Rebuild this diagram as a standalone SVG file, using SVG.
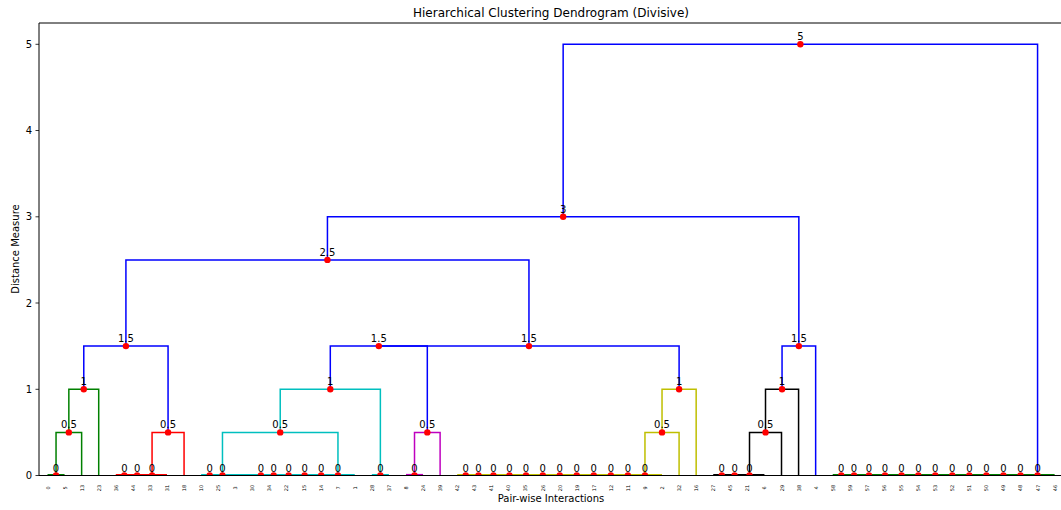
<svg xmlns="http://www.w3.org/2000/svg" width="1061" height="510" viewBox="0 0 1061 510">
<style>
text{font-family:"DejaVu Sans","Liberation Sans",sans-serif;fill:#000}
.lk{fill:none;stroke-width:1.5;stroke-linejoin:miter;stroke-linecap:butt}
.z{fill:none;stroke-width:1.2}
.g{stroke:#008000}.r{stroke:#ff0000}.c{stroke:#00bfbf}.m{stroke:#bf00bf}.y{stroke:#bfbf00}.k{stroke:#000000}.b{stroke:#0000ff}
.dot{fill:#ff0000}
.nl{font-size:10px;text-anchor:middle}
.xl{font-size:5px;text-anchor:middle;dominant-baseline:central}
.yl{font-size:10px;text-anchor:end}
.tk{stroke:#000;stroke-width:0.8}
</style>
<defs>
<clipPath id="ax"><rect x="39" y="23" width="1024" height="452.5"/></clipPath>
</defs>
<rect width="1061" height="510" fill="#fff"/>
<text x="551" y="17" style="font-size:12px;text-anchor:middle">Hierarchical Clustering Dendrogram (Divisive)</text>

<g id="connectors">
<g id="zero-links">
<path class="z g" d="M47.5,474.5H64.57M832.72,474.5H1054.63"/>
<path class="z r" d="M115.78,474.5H166.99"/>
<path class="z c" d="M201.13,474.5H354.76M371.83,474.5H388.9"/>
<path class="z m" d="M405.97,474.5H423.04"/>
<path class="z y" d="M457.18,474.5H662.02"/>
<path class="z k" d="M713.23,474.5H764.44"/>
</g>
<path class="lk g" d="M56.04,475.5V432.4H81.64V475.5"/>
<path class="lk g" d="M68.84,432.4V389.3H98.71V475.5"/>
<path class="lk r" d="M152.06,475.5V432.4H184.06V475.5"/>
<path class="lk b" d="M83.78,389.3V346.1H168.06V432.4"/>
<path class="lk c" d="M222.47,475.5V432.4H337.96V475.5"/>
<path class="lk c" d="M280.22,432.4V389.3H380.37V475.5"/>
<path class="lk m" d="M414.51,475.5V432.4H440.11V475.5"/>
<path class="lk b" d="M330.3,389.3V346.1H427.31V432.4"/>
<path class="lk y" d="M644.96,475.5V432.4H679.09V475.5"/>
<path class="lk y" d="M662.03,432.4V389.3H696.16V475.5"/>
<path class="lk b" d="M378.81,346.1H679.1V389.3"/>
<path class="lk b" d="M125.92,346.1V259.9H528.96V346.1"/>
<path class="lk k" d="M749.51,475.5V432.4H781.51V475.5"/>
<path class="lk k" d="M765.51,432.4V389.3H798.58V475.5"/>
<path class="lk b" d="M782.05,389.3V346.1H815.65V475.5"/>
<path class="lk b" d="M327.44,259.9V216.8H798.85V346.1"/>
<path class="lk b" d="M563.15,216.8V44.3H1037.57V475.5"/>
</g>

<g id="nodes" clip-path="url(#ax)">
<g id="n5"><circle class="dot" cx="800.36" cy="44.3" r="3.2"/><text class="nl" x="800.36" y="40.3">5</text></g>
<g id="n3"><circle class="dot" cx="563.15" cy="216.8" r="3.2"/><text class="nl" x="563.15" y="212.8">3</text></g>
<g id="n2_5"><circle class="dot" cx="327.44" cy="259.9" r="3.2"/><text class="nl" x="327.44" y="255.9">2.5</text></g>
<g id="n1_5a"><circle class="dot" cx="125.92" cy="346.1" r="3.2"/><text class="nl" x="125.92" y="342.1">1.5</text></g>
<g id="n1_5b"><circle class="dot" cx="378.81" cy="346.1" r="3.2"/><text class="nl" x="378.81" y="342.1">1.5</text></g>
<g id="n1_5c"><circle class="dot" cx="528.96" cy="346.1" r="3.2"/><text class="nl" x="528.96" y="342.1">1.5</text></g>
<g id="n1_5d"><circle class="dot" cx="798.85" cy="346.1" r="3.2"/><text class="nl" x="798.85" y="342.1">1.5</text></g>
<g id="n1a"><circle class="dot" cx="83.78" cy="389.3" r="3.2"/><text class="nl" x="83.78" y="385.3">1</text></g>
<g id="n1b"><circle class="dot" cx="330.3" cy="389.3" r="3.2"/><text class="nl" x="330.3" y="385.3">1</text></g>
<g id="n1c"><circle class="dot" cx="679.1" cy="389.3" r="3.2"/><text class="nl" x="679.1" y="385.3">1</text></g>
<g id="n1d"><circle class="dot" cx="782.05" cy="389.3" r="3.2"/><text class="nl" x="782.05" y="385.3">1</text></g>
<g id="n0_5a"><circle class="dot" cx="68.84" cy="432.4" r="3.2"/><text class="nl" x="68.84" y="428.4">0.5</text></g>
<g id="n0_5b"><circle class="dot" cx="168.06" cy="432.4" r="3.2"/><text class="nl" x="168.06" y="428.4">0.5</text></g>
<g id="n0_5c"><circle class="dot" cx="280.22" cy="432.4" r="3.2"/><text class="nl" x="280.22" y="428.4">0.5</text></g>
<g id="n0_5d"><circle class="dot" cx="427.31" cy="432.4" r="3.2"/><text class="nl" x="427.31" y="428.4">0.5</text></g>
<g id="n0_5e"><circle class="dot" cx="662.03" cy="432.4" r="3.2"/><text class="nl" x="662.03" y="428.4">0.5</text></g>
<g id="n0_5f"><circle class="dot" cx="765.51" cy="432.4" r="3.2"/><text class="nl" x="765.51" y="428.4">0.5</text></g>
<g id="z01"><circle class="dot" cx="56.04" cy="475.5" r="3.2"/><text class="nl" x="56.04" y="471.5">0</text></g>
<g id="z02"><circle class="dot" cx="124.32" cy="475.5" r="3.2"/><text class="nl" x="124.32" y="471.5">0</text></g>
<g id="z03"><circle class="dot" cx="137.12" cy="475.5" r="3.2"/><text class="nl" x="137.12" y="471.5">0</text></g>
<g id="z04"><circle class="dot" cx="152.06" cy="475.5" r="3.2"/><text class="nl" x="152.06" y="471.5">0</text></g>
<g id="z05"><circle class="dot" cx="209.67" cy="475.5" r="3.2"/><text class="nl" x="209.67" y="471.5">0</text></g>
<g id="z06"><circle class="dot" cx="222.47" cy="475.5" r="3.2"/><text class="nl" x="222.47" y="471.5">0</text></g>
<g id="z07"><circle class="dot" cx="260.88" cy="475.5" r="3.2"/><text class="nl" x="260.88" y="471.5">0</text></g>
<g id="z08"><circle class="dot" cx="273.68" cy="475.5" r="3.2"/><text class="nl" x="273.68" y="471.5">0</text></g>
<g id="z09"><circle class="dot" cx="288.62" cy="475.5" r="3.2"/><text class="nl" x="288.62" y="471.5">0</text></g>
<g id="z10"><circle class="dot" cx="304.62" cy="475.5" r="3.2"/><text class="nl" x="304.62" y="471.5">0</text></g>
<g id="z11"><circle class="dot" cx="321.16" cy="475.5" r="3.2"/><text class="nl" x="321.16" y="471.5">0</text></g>
<g id="z12"><circle class="dot" cx="337.96" cy="475.5" r="3.2"/><text class="nl" x="337.96" y="471.5">0</text></g>
<g id="z13"><circle class="dot" cx="380.37" cy="475.5" r="3.2"/><text class="nl" x="380.37" y="471.5">0</text></g>
<g id="z14"><circle class="dot" cx="414.51" cy="475.5" r="3.2"/><text class="nl" x="414.51" y="471.5">0</text></g>
<g id="z15"><circle class="dot" cx="465.72" cy="475.5" r="3.2"/><text class="nl" x="465.72" y="471.5">0</text></g>
<g id="z16"><circle class="dot" cx="478.52" cy="475.5" r="3.2"/><text class="nl" x="478.52" y="471.5">0</text></g>
<g id="z17"><circle class="dot" cx="493.46" cy="475.5" r="3.2"/><text class="nl" x="493.46" y="471.5">0</text></g>
<g id="z18"><circle class="dot" cx="509.46" cy="475.5" r="3.2"/><text class="nl" x="509.46" y="471.5">0</text></g>
<g id="z19"><circle class="dot" cx="526" cy="475.5" r="3.2"/><text class="nl" x="526" y="471.5">0</text></g>
<g id="z20"><circle class="dot" cx="542.8" cy="475.5" r="3.2"/><text class="nl" x="542.8" y="471.5">0</text></g>
<g id="z21"><circle class="dot" cx="559.74" cy="475.5" r="3.2"/><text class="nl" x="559.74" y="471.5">0</text></g>
<g id="z22"><circle class="dot" cx="576.74" cy="475.5" r="3.2"/><text class="nl" x="576.74" y="471.5">0</text></g>
<g id="z23"><circle class="dot" cx="593.78" cy="475.5" r="3.2"/><text class="nl" x="593.78" y="471.5">0</text></g>
<g id="z24"><circle class="dot" cx="610.83" cy="475.5" r="3.2"/><text class="nl" x="610.83" y="471.5">0</text></g>
<g id="z25"><circle class="dot" cx="627.89" cy="475.5" r="3.2"/><text class="nl" x="627.89" y="471.5">0</text></g>
<g id="z26"><circle class="dot" cx="644.96" cy="475.5" r="3.2"/><text class="nl" x="644.96" y="471.5">0</text></g>
<g id="z27"><circle class="dot" cx="721.77" cy="475.5" r="3.2"/><text class="nl" x="721.77" y="471.5">0</text></g>
<g id="z28"><circle class="dot" cx="734.57" cy="475.5" r="3.2"/><text class="nl" x="734.57" y="471.5">0</text></g>
<g id="z29"><circle class="dot" cx="749.51" cy="475.5" r="3.2"/><text class="nl" x="749.51" y="471.5">0</text></g>
<g id="z30"><circle class="dot" cx="841.26" cy="475.5" r="3.2"/><text class="nl" x="841.26" y="471.5">0</text></g>
<g id="z31"><circle class="dot" cx="854.06" cy="475.5" r="3.2"/><text class="nl" x="854.06" y="471.5">0</text></g>
<g id="z32"><circle class="dot" cx="869" cy="475.5" r="3.2"/><text class="nl" x="869" y="471.5">0</text></g>
<g id="z33"><circle class="dot" cx="885" cy="475.5" r="3.2"/><text class="nl" x="885" y="471.5">0</text></g>
<g id="z34"><circle class="dot" cx="901.54" cy="475.5" r="3.2"/><text class="nl" x="901.54" y="471.5">0</text></g>
<g id="z35"><circle class="dot" cx="918.34" cy="475.5" r="3.2"/><text class="nl" x="918.34" y="471.5">0</text></g>
<g id="z36"><circle class="dot" cx="935.28" cy="475.5" r="3.2"/><text class="nl" x="935.28" y="471.5">0</text></g>
<g id="z37"><circle class="dot" cx="952.28" cy="475.5" r="3.2"/><text class="nl" x="952.28" y="471.5">0</text></g>
<g id="z38"><circle class="dot" cx="969.32" cy="475.5" r="3.2"/><text class="nl" x="969.32" y="471.5">0</text></g>
<g id="z39"><circle class="dot" cx="986.37" cy="475.5" r="3.2"/><text class="nl" x="986.37" y="471.5">0</text></g>
<g id="z40"><circle class="dot" cx="1003.43" cy="475.5" r="3.2"/><text class="nl" x="1003.43" y="471.5">0</text></g>
<g id="z41"><circle class="dot" cx="1020.5" cy="475.5" r="3.2"/><text class="nl" x="1020.5" y="471.5">0</text></g>
<g id="z42"><circle class="dot" cx="1037.57" cy="475.5" r="3.2"/><text class="nl" x="1037.57" y="471.5">0</text></g>
</g>

<g id="axes">
<path d="M39,475.5V23H1063" fill="none" stroke="#000" stroke-width="1"/>
<path d="M39,475.5H1063" fill="none" stroke="#000" stroke-width="1"/>
<path class="tk" d="M35.5,475.5H39M35.5,389.3H39M35.5,303H39M35.5,216.8H39M35.5,130.5H39M35.5,44.3H39"/>
<text class="yl" x="32" y="479.1">0</text>
<text class="yl" x="32" y="392.9">1</text>
<text class="yl" x="32" y="306.6">2</text>
<text class="yl" x="32" y="220.4">3</text>
<text class="yl" x="32" y="134.1">4</text>
<text class="yl" x="32" y="47.9">5</text>
<text transform="translate(19,249) rotate(-90)" style="font-size:10px;text-anchor:middle">Distance Measure</text>
<text x="551" y="502" style="font-size:10px;text-anchor:middle">Pair-wise Interactions</text>
</g>

<g id="leaves">
<text class="xl" transform="translate(47.5,488) rotate(-90)">0</text>
<text class="xl" transform="translate(64.57,488) rotate(-90)">5</text>
<text class="xl" transform="translate(81.64,488) rotate(-90)">13</text>
<text class="xl" transform="translate(98.71,488) rotate(-90)">23</text>
<text class="xl" transform="translate(115.78,488) rotate(-90)">36</text>
<text class="xl" transform="translate(132.85,488) rotate(-90)">44</text>
<text class="xl" transform="translate(149.92,488) rotate(-90)">33</text>
<text class="xl" transform="translate(166.99,488) rotate(-90)">31</text>
<text class="xl" transform="translate(184.06,488) rotate(-90)">18</text>
<text class="xl" transform="translate(201.13,488) rotate(-90)">10</text>
<text class="xl" transform="translate(218.2,488) rotate(-90)">25</text>
<text class="xl" transform="translate(235.27,488) rotate(-90)">3</text>
<text class="xl" transform="translate(252.34,488) rotate(-90)">30</text>
<text class="xl" transform="translate(269.41,488) rotate(-90)">34</text>
<text class="xl" transform="translate(286.48,488) rotate(-90)">22</text>
<text class="xl" transform="translate(303.55,488) rotate(-90)">15</text>
<text class="xl" transform="translate(320.62,488) rotate(-90)">14</text>
<text class="xl" transform="translate(337.69,488) rotate(-90)">7</text>
<text class="xl" transform="translate(354.76,488) rotate(-90)">1</text>
<text class="xl" transform="translate(371.83,488) rotate(-90)">28</text>
<text class="xl" transform="translate(388.9,488) rotate(-90)">37</text>
<text class="xl" transform="translate(405.97,488) rotate(-90)">8</text>
<text class="xl" transform="translate(423.04,488) rotate(-90)">24</text>
<text class="xl" transform="translate(440.11,488) rotate(-90)">39</text>
<text class="xl" transform="translate(457.18,488) rotate(-90)">42</text>
<text class="xl" transform="translate(474.25,488) rotate(-90)">43</text>
<text class="xl" transform="translate(491.32,488) rotate(-90)">41</text>
<text class="xl" transform="translate(508.39,488) rotate(-90)">40</text>
<text class="xl" transform="translate(525.46,488) rotate(-90)">35</text>
<text class="xl" transform="translate(542.53,488) rotate(-90)">26</text>
<text class="xl" transform="translate(559.6,488) rotate(-90)">20</text>
<text class="xl" transform="translate(576.67,488) rotate(-90)">19</text>
<text class="xl" transform="translate(593.74,488) rotate(-90)">17</text>
<text class="xl" transform="translate(610.81,488) rotate(-90)">12</text>
<text class="xl" transform="translate(627.88,488) rotate(-90)">11</text>
<text class="xl" transform="translate(644.95,488) rotate(-90)">9</text>
<text class="xl" transform="translate(662.02,488) rotate(-90)">2</text>
<text class="xl" transform="translate(679.09,488) rotate(-90)">32</text>
<text class="xl" transform="translate(696.16,488) rotate(-90)">16</text>
<text class="xl" transform="translate(713.23,488) rotate(-90)">27</text>
<text class="xl" transform="translate(730.3,488) rotate(-90)">45</text>
<text class="xl" transform="translate(747.37,488) rotate(-90)">21</text>
<text class="xl" transform="translate(764.44,488) rotate(-90)">6</text>
<text class="xl" transform="translate(781.51,488) rotate(-90)">29</text>
<text class="xl" transform="translate(798.58,488) rotate(-90)">38</text>
<text class="xl" transform="translate(815.65,488) rotate(-90)">4</text>
<text class="xl" transform="translate(832.72,488) rotate(-90)">58</text>
<text class="xl" transform="translate(849.79,488) rotate(-90)">59</text>
<text class="xl" transform="translate(866.86,488) rotate(-90)">57</text>
<text class="xl" transform="translate(883.93,488) rotate(-90)">56</text>
<text class="xl" transform="translate(901,488) rotate(-90)">55</text>
<text class="xl" transform="translate(918.07,488) rotate(-90)">54</text>
<text class="xl" transform="translate(935.14,488) rotate(-90)">53</text>
<text class="xl" transform="translate(952.21,488) rotate(-90)">52</text>
<text class="xl" transform="translate(969.28,488) rotate(-90)">51</text>
<text class="xl" transform="translate(986.35,488) rotate(-90)">50</text>
<text class="xl" transform="translate(1003.42,488) rotate(-90)">49</text>
<text class="xl" transform="translate(1020.49,488) rotate(-90)">48</text>
<text class="xl" transform="translate(1037.56,488) rotate(-90)">47</text>
<text class="xl" transform="translate(1054.63,488) rotate(-90)">46</text>
</g>
</svg>
